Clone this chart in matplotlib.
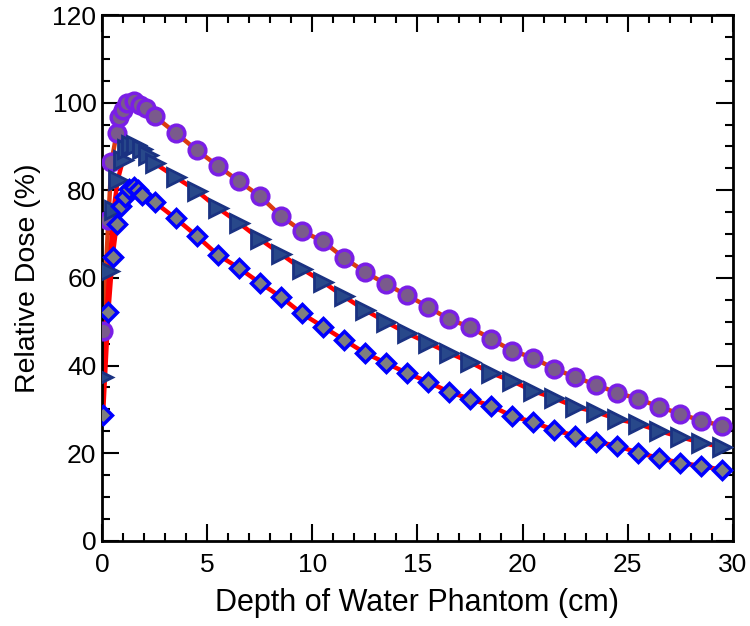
import numpy as np
import matplotlib.pyplot as plt
from matplotlib.ticker import MultipleLocator

plt.rcParams['font.family'] = ['Liberation Sans', 'DejaVu Sans']

# depth (cm) of measured points
depth_circ = [0.05, 0.3, 0.45, 0.7, 0.8, 1.0, 1.2, 1.5, 1.8, 2.1, 2.5,
              3.5, 4.5, 5.5, 6.5, 7.5, 8.5, 9.5, 10.5, 11.5, 12.5, 13.5, 14.5,
              15.5, 16.5, 17.5, 18.5, 19.5, 20.5, 21.5, 22.5, 23.5, 24.5,
              25.5, 26.5, 27.5, 28.5, 29.5]
dose_circ = [47.9, 73.2, 86.5, 93.1, 96.7, 98.3, 99.9, 100.4, 99.5, 98.8, 96.9,
             93.1, 89.2, 85.6, 82.1, 78.7, 74.2, 70.7, 68.4, 64.6, 61.4, 58.6,
             56.1, 53.4, 50.6, 48.8, 46.1, 43.4, 41.8, 39.3, 37.4, 35.6, 33.8,
             32.4, 30.6, 29.0, 27.4, 26.3]

depth_tri = [0.05, 0.35, 0.55, 0.75, 1.0, 1.2, 1.4, 1.6, 1.9, 2.2, 2.5,
             3.5, 4.5, 5.5, 6.5, 7.5, 8.5, 9.5, 10.5, 11.5, 12.5, 13.5, 14.5,
             15.5, 16.5, 17.5, 18.5, 19.5, 20.5, 21.5, 22.5, 23.5, 24.5,
             25.5, 26.5, 27.5, 28.5, 29.5]
dose_tri = [37.4, 61.6, 75.5, 82.4, 87.0, 89.5, 90.3, 90.3, 89.4, 88.0, 86.2,
            83.0, 79.9, 76.0, 72.6, 68.9, 65.5, 62.1, 59.1, 55.8, 52.7, 50.0,
            47.4, 45.2, 42.9, 40.8, 38.3, 36.5, 34.2, 32.6, 30.6, 29.4, 27.8,
            26.7, 25.1, 23.7, 22.4, 21.4]

depth_dia = [0.05, 0.3, 0.5, 0.7, 0.9, 1.1, 1.3, 1.5, 1.7, 1.9, 2.5,
             3.5, 4.5, 5.5, 6.5, 7.5, 8.5, 9.5, 10.5, 11.5, 12.5, 13.5, 14.5,
             15.5, 16.5, 17.5, 18.5, 19.5, 20.5, 21.5, 22.5, 23.5, 24.5,
             25.5, 26.5, 27.5, 28.5, 29.5]
dose_dia = [28.7, 52.2, 64.8, 72.3, 76.5, 78.5, 80.3, 80.8, 80.0, 79.0, 77.3,
            73.6, 69.6, 65.3, 62.3, 58.9, 55.7, 51.9, 48.9, 45.9, 42.9, 40.6,
            38.3, 36.3, 34.0, 32.4, 30.8, 28.5, 27.1, 25.3, 24.0, 22.6, 21.7,
            20.1, 18.9, 17.8, 17.1, 16.2]

fig = plt.figure(figsize=(7.5, 6.26), dpi=100)
ax = fig.add_axes([0.136, 0.136, 0.841, 0.84])

ax.plot(depth_circ, dose_circ, color='#dc3a10', lw=3.2, zorder=2)
ax.plot(depth_tri, dose_tri, color='#ff0000', lw=3.2, zorder=2)
ax.plot(depth_dia, dose_dia, color='#ff0000', lw=3.2, zorder=2)

ax.plot(depth_circ, dose_circ, 'o', ms=12, mfc='#7a5a8c', mec='#7a1ee6',
        mew=2.5, ls='none', zorder=3)
ax.plot(depth_tri, dose_tri, '>', ms=13, mfc='#28488a', mec='#1a3282',
        mew=2, ls='none', zorder=3)
ax.plot(depth_dia, dose_dia, 'D', ms=9, mfc='#7f7f7f', mec='#0000ff',
        mew=2.5, ls='none', zorder=3)

ax.set_xlim(0, 30)
ax.set_ylim(0, 120)
ax.xaxis.set_major_locator(MultipleLocator(5))
ax.xaxis.set_minor_locator(MultipleLocator(1))
ax.yaxis.set_major_locator(MultipleLocator(20))
ax.yaxis.set_minor_locator(MultipleLocator(5))

ax.tick_params(which='both', direction='in', top=True, right=True,
               width=1.5, labelsize=19)
ax.tick_params(axis='x', pad=9)
ax.tick_params(axis='y', pad=4)
ax.tick_params(which='major', length=12)
ax.tick_params(which='minor', length=6)
for s in ax.spines.values():
    s.set_linewidth(2)

ax.set_xlabel('Depth of Water Phantom (cm)', fontsize=22, labelpad=8)
ax.set_ylabel('Relative Dose (%)', fontsize=20.5, labelpad=8)

fig.savefig('out.png', dpi=100)
